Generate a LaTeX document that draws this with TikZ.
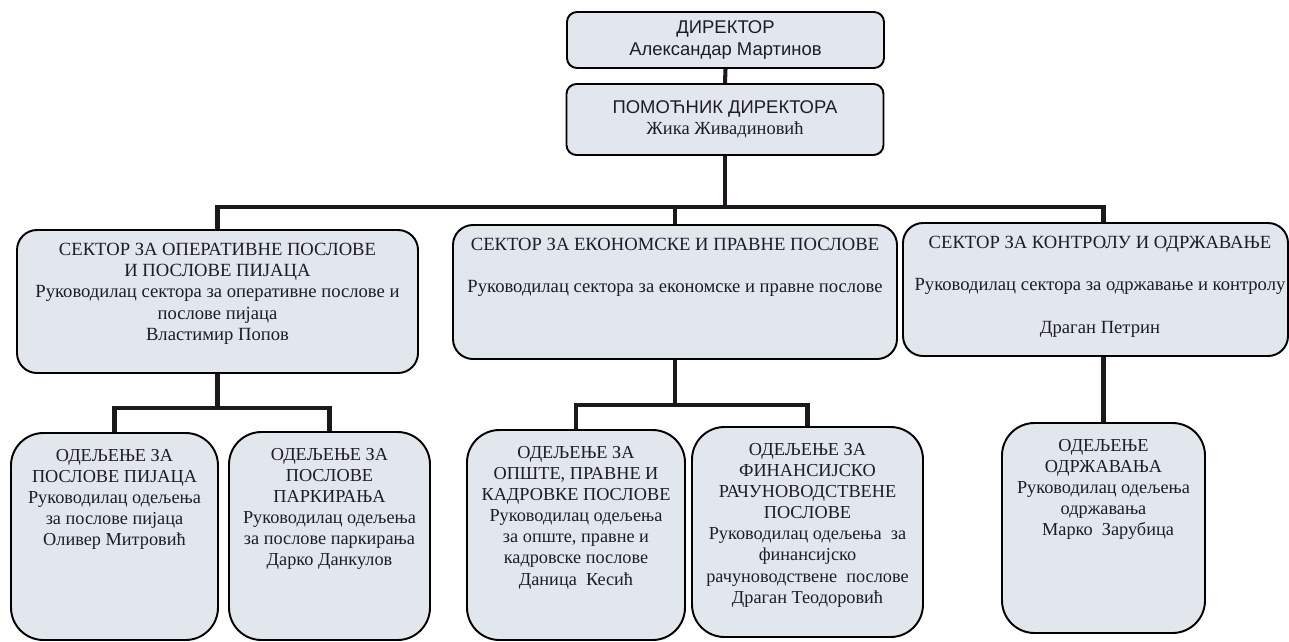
\documentclass[tikz,border=0pt]{standalone}
\usepackage{fontspec}
\setmainfont{Liberation Serif}
\newfontfamily\arial{Liberation Sans}
\usetikzlibrary{positioning}

\definecolor{sivoplava}{RGB}{226,231,238}
\definecolor{linija}{RGB}{28,24,30}
\definecolor{slova}{RGB}{30,28,40}

\begin{document}
\begin{tikzpicture}[x=0.2mm,y=-0.2mm,
  kutija/.style={rectangle,draw=black,line width=1.1pt,fill=sivoplava},
  uprava/.style={kutija,rounded corners=2mm,minimum width=63.4mm,align=center,text=slova,
                 font=\arial\fontsize{10.5}{12}\selectfont},
  sektor/.style={kutija,rounded corners=4mm},
  odeljenje/.style={kutija,rounded corners=6.5mm},
  tekst/.style={anchor=north,inner sep=0pt,align=center,text=slova,font=\fontsize{10.6}{12}\selectfont},
  tekstod/.style={tekst,font=\fontsize{10.4}{12}\selectfont},
  veza/.style={draw=linija,line width=2.3pt}]

\useasboundingbox[fill=white] (0,0) rectangle (1289,641);

\node at (725.5,40) [uprava,minimum height=11.2mm] (dir) {ДИРЕКТОР \\
                                    Александар Мартинов};
\node at (725,119.5) [uprava,minimum height=14.2mm] (pom) {ПОМОЋНИК ДИРЕКТОРА \\
                                    {\rmfamily Жика Живадиновић}};

\node at (217.5,301.5) [sektor,minimum width=80.2mm,minimum height=28.6mm] (sek1) {};
\node at (675,292) [sektor,minimum width=88.8mm,minimum height=26.8mm] (sek2) {};
\node at (1095.5,289.5) [sektor,minimum width=77mm,minimum height=26.6mm] (sek3) {};

\node at (114.5,536.5) [odeljenje,minimum width=41.4mm,minimum height=41.4mm] (od1) {};
\node at (329.5,536) [odeljenje,minimum width=40.2mm,minimum height=41.6mm] (od2) {};
\node at (576,535) [odeljenje,minimum width=43.6mm,minimum height=42mm] (od3) {};
\node at (807.5,532) [odeljenje,minimum width=46.2mm,minimum height=42mm] (od4) {};
\node at (1103.5,528) [odeljenje,minimum width=40.6mm,minimum height=42mm] (od5) {};

% tekst u sektorima
\node at ([yshift=-2.8mm]sek1.north) [tekst] (sek1t) {СЕКТОР ЗА ОПЕРАТИВНЕ ПОСЛОВЕ \\
                                    И ПОСЛОВЕ ПИЈАЦА \\
                                    Руководилац сектора за оперативне послове и \\
                                    послове пијаца \\
                                    Властимир Попов};
\node at ([yshift=-2.8mm]sek2.north) [tekst] (sek2t) {СЕКТОР ЗА ЕКОНОМСКЕ И ПРАВНЕ ПОСЛОВЕ \\[12pt]
                                    Руководилац сектора за економске и правне послове};
\node at ([xshift=0.9mm,yshift=-2.8mm]sek3.north) [tekst] (sek3t) {СЕКТОР ЗА КОНТРОЛУ И ОДРЖАВАЊЕ \\[12pt]
                                    Руководилац сектора за одржавање и контролу \\[12pt]
                                    Драган Петрин};

% tekst u odeljenjima
\node at ([yshift=-3.4mm]od1.north) [tekstod] (od1t) {ОДЕЉЕЊЕ ЗА \\
                                    ПОСЛОВЕ ПИЈАЦА \\
                                    Руководилац одељења \\
                                    за послове пијаца \\
                                    Оливер Митровић};
\node at ([yshift=-3.4mm]od2.north) [tekstod] (od2t) {ОДЕЉЕЊЕ ЗА \\
                                    ПОСЛОВЕ \\
                                    ПАРКИРАЊА \\
                                    Руководилац одељења \\
                                    за послове паркирања \\
                                    Дарко Данкулов};
\node at ([yshift=-3.4mm]od3.north) [tekstod] (od3t) {ОДЕЉЕЊЕ ЗА \\
                                    ОПШТЕ, ПРАВНЕ И \\
                                    КАДРОВКЕ ПОСЛОВЕ \\
                                    Руководилац одељења \\
                                    за опште, правне и \\
                                    кадровске послове \\
                                    Даница~ Кесић};
\node at ([yshift=-3.4mm]od4.north) [tekstod] (od4t) {ОДЕЉЕЊЕ ЗА \\
                                    ФИНАНСИЈСКО \\
                                    РАЧУНОВОДСТВЕНЕ \\
                                    ПОСЛОВЕ \\
                                    Руководилац одељења~ за \\
                                    финансијско \\
                                    рачуноводствене~ послове \\
                                    Драган Теодоровић};
\node at ([yshift=-3.4mm]od5.north) [tekstod] (od5t) {ОДЕЉЕЊЕ \\
                                    ОДРЖАВАЊА \\
                                    Руководилац одељења \\
                                    одржавања \\
                                    \ \ Марко~ Зарубица};

% veze
\coordinate (sabirnica) at (0,207);
\coordinate (grana1) at (0,408);
\coordinate (grana2) at (0,405);

\draw[veza] (dir.south) -- (pom.north);
\draw[veza] (pom.south) -- (pom.south |- sabirnica);
\draw[veza] (sek1.north) -- (sek1.north |- sabirnica) -- (od5.north |- sabirnica) -- (od5.north |- sek3.north);
\draw[veza] (sek2.north) -- (sek2.north |- sabirnica);

\draw[veza] (sek1.south) -- (sek1.south |- grana1);
\draw[veza] (od1.north) -- (od1.north |- grana1) -- (od2.north |- grana1) -- (od2.north);
\draw[veza] (sek2.south) -- (sek2.south |- grana2);
\draw[veza] (od3.north) -- (od3.north |- grana2) -- (od4.north |- grana2) -- (od4.north);
\draw[veza] (od5.north |- sek3.south) -- (od5.north);
\end{tikzpicture}
\end{document}
